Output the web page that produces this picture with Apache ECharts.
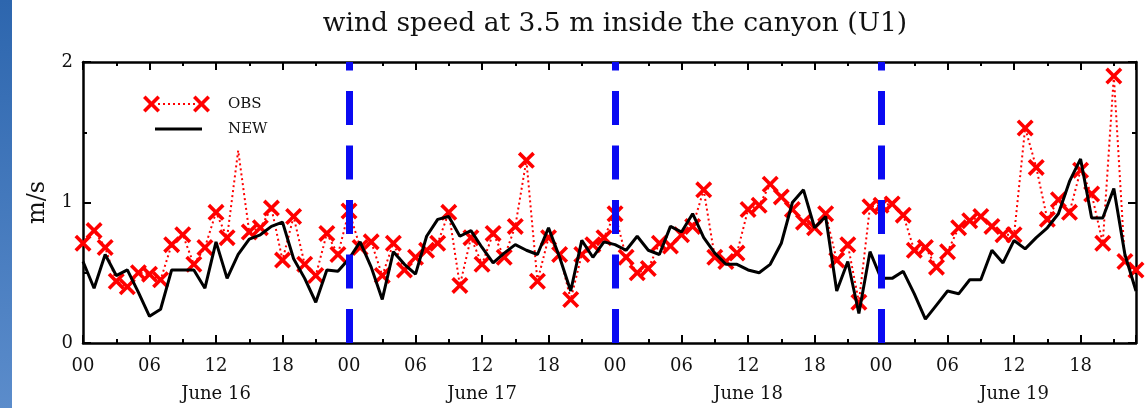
<!DOCTYPE html>
<html>
<head>
<meta charset="utf-8">
<script src="https://cdn.jsdelivr.net/npm/echarts@6/dist/echarts.min.js"></script>
<style>
  html, body { margin: 0; padding: 0; background: #fff; }
  #main { width: 1145px; height: 408px; }
</style>
</head>
<body>
<div id="main"></div>
<script>
// hourly wind speed (m/s), June 16 00h .. June 19 23h
var obsSpeed = [
  0.71, 0.80, 0.68, 0.44, 0.40, 0.50, 0.49, 0.45, 0.70, 0.77, 0.56, 0.68,
  0.93, 0.75, 1.37, 0.79, 0.82, 0.96, 0.59, 0.90, 0.56, 0.48, 0.78, 0.63,
  0.94, 0.68, 0.72, 0.48, 0.71, 0.52, 0.61, 0.66, 0.71, 0.93, 0.41, 0.75,
  0.56, 0.78, 0.61, 0.83, 1.30, 0.44, 0.75, 0.63, 0.31, 0.63, 0.70, 0.75,
  0.92, 0.61, 0.50, 0.53, 0.71, 0.69, 0.77, 0.83, 1.09, 0.61, 0.58, 0.64,
  0.95, 0.98, 1.13, 1.04, 0.95, 0.86, 0.82, 0.92, 0.59, 0.70, 0.29, 0.97,
  0.98, 0.99, 0.91, 0.66, 0.68, 0.54, 0.65, 0.82, 0.87, 0.90, 0.83, 0.77,
  0.77, 1.53, 1.25, 0.88, 1.02, 0.93, 1.23, 1.06, 0.71, 1.90, 0.58, 0.52
];
var obsNoMarker = [14];

var newSpeed = [
  0.58, 0.39, 0.63, 0.48, 0.52, 0.36, 0.19, 0.24, 0.52, 0.52, 0.52, 0.39,
  0.72, 0.46, 0.63, 0.74, 0.77, 0.83, 0.86, 0.60, 0.46, 0.29, 0.52, 0.51,
  0.60, 0.72, 0.54, 0.31, 0.65, 0.56, 0.49, 0.76, 0.88, 0.90, 0.76, 0.80,
  0.68, 0.57, 0.64, 0.70, 0.66, 0.63, 0.82, 0.61, 0.37, 0.73, 0.61, 0.72,
  0.70, 0.66, 0.76, 0.66, 0.63, 0.83, 0.79, 0.92, 0.75, 0.64, 0.56, 0.56,
  0.52, 0.50, 0.56, 0.71, 1.00, 1.09, 0.82, 0.90, 0.37, 0.58, 0.21, 0.65,
  0.46, 0.46, 0.51, 0.35, 0.17, 0.27, 0.37, 0.35, 0.45, 0.45, 0.66, 0.57,
  0.73, 0.67, 0.75, 0.82, 0.92, 1.15, 1.31, 0.89, 0.89, 1.10, 0.63, 0.37
];

var hourLabels = ['00', '06', '12', '18'];
var dayLabels = ['June 16', 'June 17', 'June 18', 'June 19'];
var dayBreaks = [24, 48, 72];

var FONT = 'DejaVu Serif';
var CROSS = 'path://M3,0 L10,7 L17,0 L20,3 L13,10 L20,17 L17,20 L10,13 L3,20 L0,17 L7,10 L0,3 Z';
var CROSS_PTS = [[3,0],[10,7],[17,0],[20,3],[13,10],[20,17],[17,20],[10,13],[3,20],[0,17],[7,10],[0,3]];

// legend cross as polygon, centred on cx,cy
function legendCross(cx, cy, size) {
  var k = size / 20;
  return {
    type: 'polygon', z: 100,
    shape: { points: CROSS_PTS.map(function (p) { return [cx - size / 2 + p[0] * k, cy - size / 2 + p[1] * k]; }) },
    style: { fill: '#ff0000' }
  };
}

var obsData = obsSpeed.map(function (v, i) {
  if (obsNoMarker.indexOf(i) >= 0) return { value: [i, v], symbol: 'none' };
  return [i, v];
});
var newData = newSpeed.map(function (v, i) { return [i, v]; });

function xLabel(v) {
  if (v % 6 !== 0) return '';
  var h = v % 24;
  var s = hourLabels[h / 6];
  if (h === 12) s += '\n{day|' + dayLabels[Math.floor(v / 24)] + '}';
  return s;
}

function xAxisBase(pos, showLabel) {
  return {
    type: 'value', position: pos, min: 0, max: 95, interval: 6,
    axisLine: { show: true, onZero: false, lineStyle: { color: '#000', width: 2.5 } },
    axisTick: { show: true, inside: true, length: 8, lineStyle: { color: '#000', width: 2 } },
    minorTick: { show: true, splitNumber: 2, length: 4, lineStyle: { color: '#000', width: 2 } },
    splitLine: { show: false },
    axisLabel: {
      show: showLabel, formatter: xLabel, showMaxLabel: false,
      fontFamily: FONT, fontSize: 18, color: '#111', margin: 9, lineHeight: 28,
      rich: { day: { fontFamily: FONT, fontSize: 18, color: '#111', lineHeight: 28 } }
    }
  };
}

function yAxisBase(pos, showLabel) {
  return {
    type: 'value', position: pos, min: 0, max: 2, interval: 1,
    axisLine: { show: true, onZero: false, lineStyle: { color: '#000', width: 2.5 } },
    axisTick: { show: true, inside: true, length: 8, lineStyle: { color: '#000', width: 2 } },
    minorTick: { show: true, splitNumber: 2, length: 4, lineStyle: { color: '#000', width: 2 } },
    splitLine: { show: false },
    axisLabel: { show: showLabel, fontFamily: FONT, fontSize: 18, color: '#111', margin: 10 }
  };
}

var myChart = echarts.init(document.getElementById('main'));

var yLeft = yAxisBase('left', true);
yLeft.name = 'm/s';
yLeft.nameLocation = 'middle';
yLeft.nameGap = 33;
yLeft.nameTextStyle = { fontFamily: FONT, fontSize: 24, color: '#111' };

var option = {
  backgroundColor: '#fff',
  animation: false,
  title: {
    text: 'wind speed at 3.5 m inside the canyon (U1)',
    left: 610, top: 6, textAlign: 'center',
    textStyle: { fontFamily: FONT, fontSize: 26.5, fontWeight: 'normal', color: '#111' }
  },
  grid: { left: 83, right: 9, top: 62, bottom: 62 },
  xAxis: [xAxisBase('bottom', true), xAxisBase('top', false)],
  yAxis: [yLeft, yAxisBase('right', false)],
  graphic: [
    {
      type: 'rect', left: 0, top: 0, z: 100,
      shape: { width: 12, height: 408 },
      style: {
        fill: new echarts.graphic.LinearGradient(0, 0, 0, 1, [
          { offset: 0, color: '#2d66ae' }, { offset: 1, color: '#5b8ccb' }
        ])
      }
    },
    // legend
    { type: 'line', z: 100, shape: { x1: 158, y1: 104, x2: 196, y2: 104 },
      style: { stroke: '#ff0000', lineWidth: 2, lineDash: [2, 3] } },
    legendCross(151.5, 104, 17),
    legendCross(201.5, 104, 17),
    { type: 'text', z: 100, x: 228, y: 104,
      style: { text: 'OBS', fontFamily: FONT, fontSize: 15, fill: '#111', textVerticalAlign: 'middle' } },
    { type: 'line', z: 100, shape: { x1: 155, y1: 129, x2: 202, y2: 129 },
      style: { stroke: '#000', lineWidth: 3 } },
    { type: 'text', z: 100, x: 228, y: 129,
      style: { text: 'NEW', fontFamily: FONT, fontSize: 15, fill: '#111', textVerticalAlign: 'middle' } }
  ],
  series: [
    {
      name: 'day breaks', type: 'line', data: [], z: 1, silent: true,
      markLine: {
        silent: true, symbol: ['none', 'none'], label: { show: false },
        lineStyle: { color: '#0a0af2', width: 7, type: [34, 20.5] },
        emphasis: { disabled: true },
        data: dayBreaks.map(function (h) { return [{ coord: [h, 0] }, { coord: [h, 2] }]; })
      }
    },
    {
      name: 'OBS', type: 'line', data: obsData, z: 3,
      symbol: CROSS, symbolSize: 17,
      itemStyle: { color: '#ff0000' },
      lineStyle: { color: '#ff0000', width: 2, type: [2, 3] }
    },
    {
      name: 'NEW', type: 'line', data: newData, z: 4,
      symbol: 'none',
      lineStyle: { color: '#000', width: 3 }
    }
  ]
};
myChart.setOption(option);
</script>
</body>
</html>
